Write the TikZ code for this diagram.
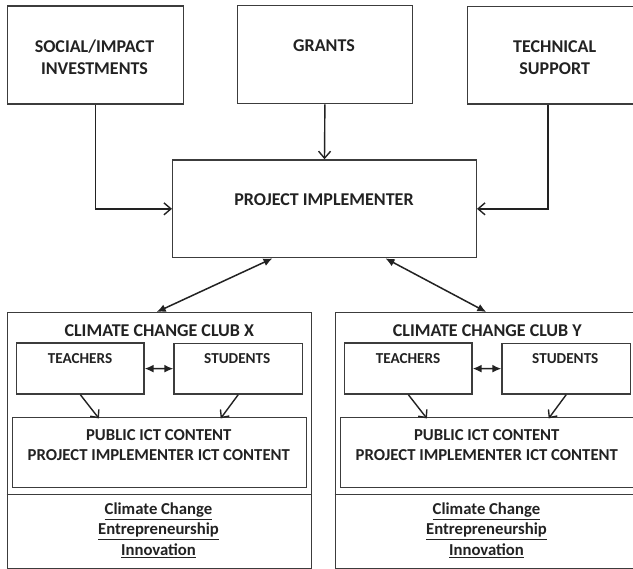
\documentclass[tikz,border=0pt]{standalone}
\usepackage{fontspec}
\setmainfont{Carlito}
\usetikzlibrary{arrows.meta,calc}
\definecolor{ink}{HTML}{222222}
\definecolor{frame}{HTML}{3C3C3C}
\tikzset{
  box/.style={draw=frame, line width=1.4pt, inner sep=0pt, anchor=north west},
  bigtxt/.style={font=\fontsize{18}{22}\selectfont\bfseries, text=ink, align=center, inner sep=0pt},
  midtxt/.style={font=\fontsize{16.7}{20}\selectfont\bfseries, text=ink, align=center, inner sep=0pt},
  smalltxt/.style={font=\fontsize{15.2}{18}\selectfont\bfseries, text=ink, align=center, inner sep=0pt},
  bottxt/.style={font=\fontsize{16.7}{20}\selectfont\bfseries, text=ink, inner sep=0pt, anchor=base},
  feed/.style={draw=ink, line width=1.4pt, -{Straight Barb[length=7pt,width=12pt,line width=1.4pt]}},
  twoway/.style={draw=ink, line width=1.5pt, {Latex[length=9pt,width=8pt]}-{Latex[length=9pt,width=8pt]}},
  inner/.style={draw=ink, line width=1.4pt, -{Straight Barb[length=6pt,width=11pt,line width=1.4pt]}}
}
\begin{document}
\begin{tikzpicture}[x=1pt,y=-1pt]
\useasboundingbox (0,0) rectangle (633,569);
\clip (0,0) rectangle (633,569);
\fill[white] (0,0) rectangle (633,569);

% top boxes
\node[box, minimum width=176pt, minimum height=98pt] (soc) at (6.5,5.5) {};
\node[bigtxt] (soct) at (94.5,57) {SOCIAL/IMPACT\\INVESTMENTS};
\node[box, minimum width=175.2pt, minimum height=98pt] (grants) at (236.6,5) {};
\node[bigtxt] (grantst) at (324,46) {GRANTS};
\node[box, minimum width=176pt, minimum height=97.5pt] (tech) at (466.7,6) {};
\node[bigtxt] (techt) at (554.7,58) {TECHNICAL\\SUPPORT};

% project implementer
\node[box, minimum width=303.6pt, minimum height=97.7pt] (pi) at (172,159.3) {};
\node[bigtxt] (pit) at (324,199.5) {PROJECT IMPLEMENTER};

% feeding arrows
\draw[feed] (soc.south) |- (pi.west);
\draw[feed] (grants.south) -- (pi.north);
\draw[feed] ($(tech.south west)+(81.3,0)$) |- (pi.east);

% clubs
\foreach \n/\dx in {X/0,Y/328}{
  \begin{scope}[xshift=\dx pt]
    \node[box, minimum width=304.1pt, minimum height=256.5pt] (club\n) at (6.7,312) {};
    \draw[draw=frame, line width=1.6pt] (club\n.west |- 0,494.5) coordinate (dl\n) -- (club\n.east |- 0,494.5) coordinate (dr\n);
    \node[bigtxt] (title\n) at (159.3,331) {CLIMATE CHANGE CLUB \n};
    \node[box, minimum width=127.3pt, minimum height=50.8pt] (t\n) at (16,342.5) {};
    \node[smalltxt] (tt\n) at (80,358.3) {TEACHERS};
    \node[box, minimum width=128.4pt, minimum height=50.6pt] (s\n) at (173.3,342.7) {};
    \node[smalltxt] (st\n) at (237.3,358.3) {STUDENTS};
    \node[box, minimum width=293.7pt, minimum height=70pt] (c\n) at (12,417) {};
    \node[midtxt] (ct\n) at (158.8,445.5) {PUBLIC ICT CONTENT\\PROJECT IMPLEMENTER ICT CONTENT};
    \draw[twoway] (t\n.east) -- (s\n.west);
    \draw[inner] (t\n.south) -- ++(18.5,23.7);
    \draw[inner] (s\n.south) -- ++(-17.5,23.7);
    \node[bottxt] (b1\n) at (158.5,514.5) {\underline{Climate Change}};
    \node[bottxt] (b2\n) at (158.5,535) {\underline{Entrepreneurship}};
    \node[bottxt] (b3\n) at (158.5,555.5) {\underline{Innovation}};
  \end{scope}
}

% two-way links to clubs
\draw[twoway] ($(pi.south west)+(100.5,0)$) -- ($(clubX.north west)+(150,0)$);
\draw[twoway] ($(pi.south west)+(213.5,0)$) -- ($(clubY.north west)+(151.6,0)$);
\end{tikzpicture}
\end{document}
